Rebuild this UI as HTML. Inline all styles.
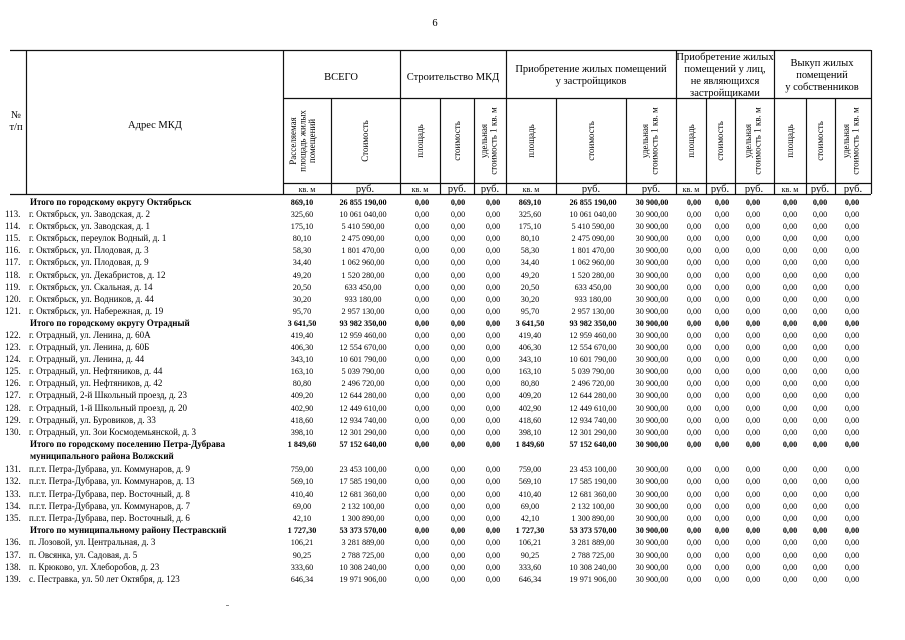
<!DOCTYPE html>
<html><head><meta charset="utf-8"><style>
html,body{margin:0;padding:0;background:#fff;width:905px;height:640px;overflow:hidden}
svg{display:block}
text{font-family:"Liberation Serif",serif;fill:#000}
.h{font-size:10.5px}
.r{font-size:9px}
.n{font-size:8.2px;text-anchor:middle}
.a{font-size:9px}
.b{font-weight:bold}
</style></head><body>
<svg width="905" height="640" viewBox="0 0 905 640" xmlns="http://www.w3.org/2000/svg">
<text x="435" y="26" class="h" text-anchor="middle">6</text>
<g stroke="#111" stroke-width="1.2" fill="none">
<line x1="10" y1="50.5" x2="871" y2="50.5"/>
<line x1="283" y1="98.5" x2="871" y2="98.5"/>
<line x1="283" y1="183.5" x2="871" y2="183.5"/>
<line x1="10" y1="194.5" x2="871" y2="194.5"/>
<line x1="26.5" y1="50" x2="26.5" y2="194"/>
<line x1="283.5" y1="50" x2="283.5" y2="194"/>
<line x1="400.5" y1="50" x2="400.5" y2="194"/>
<line x1="506.5" y1="50" x2="506.5" y2="194"/>
<line x1="676.5" y1="50" x2="676.5" y2="194"/>
<line x1="774.5" y1="50" x2="774.5" y2="194"/>
<line x1="871.5" y1="50" x2="871.5" y2="194"/>
<line x1="331.5" y1="98" x2="331.5" y2="194"/>
<line x1="440.5" y1="98" x2="440.5" y2="194"/>
<line x1="474.5" y1="98" x2="474.5" y2="194"/>
<line x1="556.5" y1="98" x2="556.5" y2="194"/>
<line x1="626.5" y1="98" x2="626.5" y2="194"/>
<line x1="706.5" y1="98" x2="706.5" y2="194"/>
<line x1="735.5" y1="98" x2="735.5" y2="194"/>
<line x1="806.5" y1="98" x2="806.5" y2="194"/>
<line x1="835.5" y1="98" x2="835.5" y2="194"/>
</g>
<text x="16" y="118" class="h" text-anchor="middle">№</text>
<text x="16" y="130" class="h" text-anchor="middle">т/п</text>
<text x="155" y="128" class="h" text-anchor="middle">Адрес МКД</text>
<text x="341" y="80" class="h" text-anchor="middle">ВСЕГО</text>
<text x="453" y="80" class="h" text-anchor="middle">Строительство МКД</text>
<text x="591" y="72" class="h" text-anchor="middle">Приобретение жилых помещений</text>
<text x="591" y="84" class="h" text-anchor="middle">у застройщиков</text>
<text x="725" y="60" class="h" text-anchor="middle">Приобретение жилых</text>
<text x="725" y="72" class="h" text-anchor="middle">помещений у лиц,</text>
<text x="725" y="84" class="h" text-anchor="middle">не являющихся</text>
<text x="725" y="96" class="h" text-anchor="middle">застройщиками</text>
<text x="822" y="66" class="h" text-anchor="middle">Выкуп жилых</text>
<text x="822" y="78" class="h" text-anchor="middle">помещений</text>
<text x="822" y="90" class="h" text-anchor="middle">у собственников</text>
<g class="r" text-anchor="middle">
<text transform="translate(296,141) rotate(-90)">Расселяемая</text>
<text transform="translate(305.5,141) rotate(-90)">площадь жилых</text>
<text transform="translate(315,141) rotate(-90)">помещений</text>
<text transform="translate(368,141) rotate(-90)">Стоимость</text>
<text transform="translate(423,141) rotate(-90)">площадь</text>
<text transform="translate(460,141) rotate(-90)">стоимость</text>
<text transform="translate(487,141) rotate(-90)">удельная</text>
<text transform="translate(496.5,141) rotate(-90)">стоимость 1 кв. м</text>
<text transform="translate(534,141) rotate(-90)">площадь</text>
<text transform="translate(594,141) rotate(-90)">стоимость</text>
<text transform="translate(648,141) rotate(-90)">удельная</text>
<text transform="translate(657.5,141) rotate(-90)">стоимость 1 кв. м</text>
<text transform="translate(694,141) rotate(-90)">площадь</text>
<text transform="translate(723,141) rotate(-90)">стоимость</text>
<text transform="translate(751,141) rotate(-90)">удельная</text>
<text transform="translate(760.5,141) rotate(-90)">стоимость 1 кв. м</text>
<text transform="translate(793,141) rotate(-90)">площадь</text>
<text transform="translate(823,141) rotate(-90)">стоимость</text>
<text transform="translate(849,141) rotate(-90)">удельная</text>
<text transform="translate(858.5,141) rotate(-90)">стоимость 1 кв. м</text>
</g>
<g class="r" text-anchor="middle">
<text x="307" y="192" font-size="8">кв. м</text><text x="365" y="192" font-size="10.5">руб.</text>
<text x="420" y="192" font-size="8">кв. м</text><text x="457" y="192" font-size="10.5">руб.</text><text x="490" y="192" font-size="10.5">руб.</text>
<text x="531" y="192" font-size="8">кв. м</text><text x="591" y="192" font-size="10.5">руб.</text><text x="651" y="192" font-size="10.5">руб.</text>
<text x="691" y="192" font-size="8">кв. м</text><text x="720" y="192" font-size="10.5">руб.</text><text x="754" y="192" font-size="10.5">руб.</text>
<text x="790" y="192" font-size="8">кв. м</text><text x="820" y="192" font-size="10.5">руб.</text><text x="853" y="192" font-size="10.5">руб.</text>
</g>

<g class="a">
<text x="30" y="205" class="b">Итого по городскому округу Октябрьск</text>
<text x="5" y="217">113.</text><text x="29" y="217">г. Октябрьск, ул.  Заводская, д.  2</text>
<text x="5" y="229">114.</text><text x="29" y="229">г. Октябрьск, ул.  Заводская, д.  1</text>
<text x="5" y="241">115.</text><text x="29" y="241">г. Октябрьск, переулок Водный, д.  1</text>
<text x="5" y="253">116.</text><text x="29" y="253">г. Октябрьск, ул.  Плодовая, д.  3</text>
<text x="5" y="265">117.</text><text x="29" y="265">г. Октябрьск, ул.  Плодовая, д.  9</text>
<text x="5" y="278">118.</text><text x="29" y="278">г. Октябрьск, ул. Декабристов, д. 12</text>
<text x="5" y="290">119.</text><text x="29" y="290">г. Октябрьск, ул.  Скальная, д.  14</text>
<text x="5" y="302">120.</text><text x="29" y="302">г. Октябрьск, ул.  Водников, д.  44</text>
<text x="5" y="314">121.</text><text x="29" y="314">г. Октябрьск, ул.  Набережная, д.  19</text>
<text x="30" y="326" class="b">Итого по городскому округу  Отрадный</text>
<text x="5" y="338">122.</text><text x="29" y="338">г. Отрадный, ул. Ленина, д.  60А</text>
<text x="5" y="350">123.</text><text x="29" y="350">г. Отрадный, ул. Ленина, д.  60Б</text>
<text x="5" y="362">124.</text><text x="29" y="362">г. Отрадный, ул.  Ленина, д.  44</text>
<text x="5" y="374">125.</text><text x="29" y="374">г. Отрадный, ул.  Нефтяников, д.  44</text>
<text x="5" y="386">126.</text><text x="29" y="386">г. Отрадный, ул.  Нефтяников, д.  42</text>
<text x="5" y="398">127.</text><text x="29" y="398">г. Отрадный, 2-й Школьный проезд, д.  23</text>
<text x="5" y="411">128.</text><text x="29" y="411">г. Отрадный, 1-й Школьный проезд, д.  20</text>
<text x="5" y="423">129.</text><text x="29" y="423">г. Отрадный, ул. Буровиков, д.  33</text>
<text x="5" y="435">130.</text><text x="29" y="435">г. Отрадный, ул. Зои Космодемьянской, д.  3</text>
<text x="30" y="447" class="b">Итого по городскому поселению  Петра-Дубрава</text>
<text x="30" y="459" class="b">муниципального района Волжский</text>
<text x="5" y="472">131.</text><text x="29" y="472">п.г.т. Петра-Дубрава, ул. Коммунаров, д. 9</text>
<text x="5" y="484">132.</text><text x="29" y="484">п.г.т. Петра-Дубрава, ул. Коммунаров, д. 13</text>
<text x="5" y="497">133.</text><text x="29" y="497">п.г.т. Петра-Дубрава, пер. Восточный, д. 8</text>
<text x="5" y="509">134.</text><text x="29" y="509">п.г.т. Петра-Дубрава, ул. Коммунаров, д. 7</text>
<text x="5" y="521">135.</text><text x="29" y="521">п.г.т. Петра-Дубрава, пер. Восточный, д. 6</text>
<text x="30" y="533" class="b">Итого по муниципальному району Пестравский</text>
<text x="5" y="545">136.</text><text x="29" y="545">п. Лозовой, ул. Центральная, д. 3</text>
<text x="5" y="558">137.</text><text x="29" y="558">п. Овсянка, ул. Садовая, д. 5</text>
<text x="5" y="570">138.</text><text x="29" y="570">п. Крюково, ул.  Хлеборобов, д. 23</text>
<text x="5" y="582">139.</text><text x="29" y="582">с. Пестравка, ул. 50 лет Октября, д. 123</text>
</g>

<g class="n">
<text y="205" class="b"><tspan x="302">869,10</tspan><tspan x="363">26 855 190,00</tspan><tspan x="422">0,00</tspan><tspan x="458">0,00</tspan><tspan x="493">0,00</tspan><tspan x="530">869,10</tspan><tspan x="593">26 855 190,00</tspan><tspan x="652">30 900,00</tspan><tspan x="694">0,00</tspan><tspan x="722">0,00</tspan><tspan x="753">0,00</tspan><tspan x="790">0,00</tspan><tspan x="820">0,00</tspan><tspan x="852">0,00</tspan></text>
<text y="217"><tspan x="302">325,60</tspan><tspan x="363">10 061 040,00</tspan><tspan x="422">0,00</tspan><tspan x="458">0,00</tspan><tspan x="493">0,00</tspan><tspan x="530">325,60</tspan><tspan x="593">10 061 040,00</tspan><tspan x="652">30 900,00</tspan><tspan x="694">0,00</tspan><tspan x="722">0,00</tspan><tspan x="753">0,00</tspan><tspan x="790">0,00</tspan><tspan x="820">0,00</tspan><tspan x="852">0,00</tspan></text>
<text y="229"><tspan x="302">175,10</tspan><tspan x="363">5 410 590,00</tspan><tspan x="422">0,00</tspan><tspan x="458">0,00</tspan><tspan x="493">0,00</tspan><tspan x="530">175,10</tspan><tspan x="593">5 410 590,00</tspan><tspan x="652">30 900,00</tspan><tspan x="694">0,00</tspan><tspan x="722">0,00</tspan><tspan x="753">0,00</tspan><tspan x="790">0,00</tspan><tspan x="820">0,00</tspan><tspan x="852">0,00</tspan></text>
<text y="241"><tspan x="302">80,10</tspan><tspan x="363">2 475 090,00</tspan><tspan x="422">0,00</tspan><tspan x="458">0,00</tspan><tspan x="493">0,00</tspan><tspan x="530">80,10</tspan><tspan x="593">2 475 090,00</tspan><tspan x="652">30 900,00</tspan><tspan x="694">0,00</tspan><tspan x="722">0,00</tspan><tspan x="753">0,00</tspan><tspan x="790">0,00</tspan><tspan x="820">0,00</tspan><tspan x="852">0,00</tspan></text>
<text y="253"><tspan x="302">58,30</tspan><tspan x="363">1 801 470,00</tspan><tspan x="422">0,00</tspan><tspan x="458">0,00</tspan><tspan x="493">0,00</tspan><tspan x="530">58,30</tspan><tspan x="593">1 801 470,00</tspan><tspan x="652">30 900,00</tspan><tspan x="694">0,00</tspan><tspan x="722">0,00</tspan><tspan x="753">0,00</tspan><tspan x="790">0,00</tspan><tspan x="820">0,00</tspan><tspan x="852">0,00</tspan></text>
<text y="265"><tspan x="302">34,40</tspan><tspan x="363">1 062 960,00</tspan><tspan x="422">0,00</tspan><tspan x="458">0,00</tspan><tspan x="493">0,00</tspan><tspan x="530">34,40</tspan><tspan x="593">1 062 960,00</tspan><tspan x="652">30 900,00</tspan><tspan x="694">0,00</tspan><tspan x="722">0,00</tspan><tspan x="753">0,00</tspan><tspan x="790">0,00</tspan><tspan x="820">0,00</tspan><tspan x="852">0,00</tspan></text>
<text y="278"><tspan x="302">49,20</tspan><tspan x="363">1 520 280,00</tspan><tspan x="422">0,00</tspan><tspan x="458">0,00</tspan><tspan x="493">0,00</tspan><tspan x="530">49,20</tspan><tspan x="593">1 520 280,00</tspan><tspan x="652">30 900,00</tspan><tspan x="694">0,00</tspan><tspan x="722">0,00</tspan><tspan x="753">0,00</tspan><tspan x="790">0,00</tspan><tspan x="820">0,00</tspan><tspan x="852">0,00</tspan></text>
<text y="290"><tspan x="302">20,50</tspan><tspan x="363">633 450,00</tspan><tspan x="422">0,00</tspan><tspan x="458">0,00</tspan><tspan x="493">0,00</tspan><tspan x="530">20,50</tspan><tspan x="593">633 450,00</tspan><tspan x="652">30 900,00</tspan><tspan x="694">0,00</tspan><tspan x="722">0,00</tspan><tspan x="753">0,00</tspan><tspan x="790">0,00</tspan><tspan x="820">0,00</tspan><tspan x="852">0,00</tspan></text>
<text y="302"><tspan x="302">30,20</tspan><tspan x="363">933 180,00</tspan><tspan x="422">0,00</tspan><tspan x="458">0,00</tspan><tspan x="493">0,00</tspan><tspan x="530">30,20</tspan><tspan x="593">933 180,00</tspan><tspan x="652">30 900,00</tspan><tspan x="694">0,00</tspan><tspan x="722">0,00</tspan><tspan x="753">0,00</tspan><tspan x="790">0,00</tspan><tspan x="820">0,00</tspan><tspan x="852">0,00</tspan></text>
<text y="314"><tspan x="302">95,70</tspan><tspan x="363">2 957 130,00</tspan><tspan x="422">0,00</tspan><tspan x="458">0,00</tspan><tspan x="493">0,00</tspan><tspan x="530">95,70</tspan><tspan x="593">2 957 130,00</tspan><tspan x="652">30 900,00</tspan><tspan x="694">0,00</tspan><tspan x="722">0,00</tspan><tspan x="753">0,00</tspan><tspan x="790">0,00</tspan><tspan x="820">0,00</tspan><tspan x="852">0,00</tspan></text>
<text y="326" class="b"><tspan x="302">3 641,50</tspan><tspan x="363">93 982 350,00</tspan><tspan x="422">0,00</tspan><tspan x="458">0,00</tspan><tspan x="493">0,00</tspan><tspan x="530">3 641,50</tspan><tspan x="593">93 982 350,00</tspan><tspan x="652">30 900,00</tspan><tspan x="694">0,00</tspan><tspan x="722">0,00</tspan><tspan x="753">0,00</tspan><tspan x="790">0,00</tspan><tspan x="820">0,00</tspan><tspan x="852">0,00</tspan></text>
<text y="338"><tspan x="302">419,40</tspan><tspan x="363">12 959 460,00</tspan><tspan x="422">0,00</tspan><tspan x="458">0,00</tspan><tspan x="493">0,00</tspan><tspan x="530">419,40</tspan><tspan x="593">12 959 460,00</tspan><tspan x="652">30 900,00</tspan><tspan x="694">0,00</tspan><tspan x="722">0,00</tspan><tspan x="753">0,00</tspan><tspan x="790">0,00</tspan><tspan x="820">0,00</tspan><tspan x="852">0,00</tspan></text>
<text y="350"><tspan x="302">406,30</tspan><tspan x="363">12 554 670,00</tspan><tspan x="422">0,00</tspan><tspan x="458">0,00</tspan><tspan x="493">0,00</tspan><tspan x="530">406,30</tspan><tspan x="593">12 554 670,00</tspan><tspan x="652">30 900,00</tspan><tspan x="694">0,00</tspan><tspan x="722">0,00</tspan><tspan x="753">0,00</tspan><tspan x="790">0,00</tspan><tspan x="820">0,00</tspan><tspan x="852">0,00</tspan></text>
<text y="362"><tspan x="302">343,10</tspan><tspan x="363">10 601 790,00</tspan><tspan x="422">0,00</tspan><tspan x="458">0,00</tspan><tspan x="493">0,00</tspan><tspan x="530">343,10</tspan><tspan x="593">10 601 790,00</tspan><tspan x="652">30 900,00</tspan><tspan x="694">0,00</tspan><tspan x="722">0,00</tspan><tspan x="753">0,00</tspan><tspan x="790">0,00</tspan><tspan x="820">0,00</tspan><tspan x="852">0,00</tspan></text>
<text y="374"><tspan x="302">163,10</tspan><tspan x="363">5 039 790,00</tspan><tspan x="422">0,00</tspan><tspan x="458">0,00</tspan><tspan x="493">0,00</tspan><tspan x="530">163,10</tspan><tspan x="593">5 039 790,00</tspan><tspan x="652">30 900,00</tspan><tspan x="694">0,00</tspan><tspan x="722">0,00</tspan><tspan x="753">0,00</tspan><tspan x="790">0,00</tspan><tspan x="820">0,00</tspan><tspan x="852">0,00</tspan></text>
<text y="386"><tspan x="302">80,80</tspan><tspan x="363">2 496 720,00</tspan><tspan x="422">0,00</tspan><tspan x="458">0,00</tspan><tspan x="493">0,00</tspan><tspan x="530">80,80</tspan><tspan x="593">2 496 720,00</tspan><tspan x="652">30 900,00</tspan><tspan x="694">0,00</tspan><tspan x="722">0,00</tspan><tspan x="753">0,00</tspan><tspan x="790">0,00</tspan><tspan x="820">0,00</tspan><tspan x="852">0,00</tspan></text>
<text y="398"><tspan x="302">409,20</tspan><tspan x="363">12 644 280,00</tspan><tspan x="422">0,00</tspan><tspan x="458">0,00</tspan><tspan x="493">0,00</tspan><tspan x="530">409,20</tspan><tspan x="593">12 644 280,00</tspan><tspan x="652">30 900,00</tspan><tspan x="694">0,00</tspan><tspan x="722">0,00</tspan><tspan x="753">0,00</tspan><tspan x="790">0,00</tspan><tspan x="820">0,00</tspan><tspan x="852">0,00</tspan></text>
<text y="411"><tspan x="302">402,90</tspan><tspan x="363">12 449 610,00</tspan><tspan x="422">0,00</tspan><tspan x="458">0,00</tspan><tspan x="493">0,00</tspan><tspan x="530">402,90</tspan><tspan x="593">12 449 610,00</tspan><tspan x="652">30 900,00</tspan><tspan x="694">0,00</tspan><tspan x="722">0,00</tspan><tspan x="753">0,00</tspan><tspan x="790">0,00</tspan><tspan x="820">0,00</tspan><tspan x="852">0,00</tspan></text>
<text y="423"><tspan x="302">418,60</tspan><tspan x="363">12 934 740,00</tspan><tspan x="422">0,00</tspan><tspan x="458">0,00</tspan><tspan x="493">0,00</tspan><tspan x="530">418,60</tspan><tspan x="593">12 934 740,00</tspan><tspan x="652">30 900,00</tspan><tspan x="694">0,00</tspan><tspan x="722">0,00</tspan><tspan x="753">0,00</tspan><tspan x="790">0,00</tspan><tspan x="820">0,00</tspan><tspan x="852">0,00</tspan></text>
<text y="435"><tspan x="302">398,10</tspan><tspan x="363">12 301 290,00</tspan><tspan x="422">0,00</tspan><tspan x="458">0,00</tspan><tspan x="493">0,00</tspan><tspan x="530">398,10</tspan><tspan x="593">12 301 290,00</tspan><tspan x="652">30 900,00</tspan><tspan x="694">0,00</tspan><tspan x="722">0,00</tspan><tspan x="753">0,00</tspan><tspan x="790">0,00</tspan><tspan x="820">0,00</tspan><tspan x="852">0,00</tspan></text>
<text y="447" class="b"><tspan x="302">1 849,60</tspan><tspan x="363">57 152 640,00</tspan><tspan x="422">0,00</tspan><tspan x="458">0,00</tspan><tspan x="493">0,00</tspan><tspan x="530">1 849,60</tspan><tspan x="593">57 152 640,00</tspan><tspan x="652">30 900,00</tspan><tspan x="694">0,00</tspan><tspan x="722">0,00</tspan><tspan x="753">0,00</tspan><tspan x="790">0,00</tspan><tspan x="820">0,00</tspan><tspan x="852">0,00</tspan></text>
<text y="472"><tspan x="302">759,00</tspan><tspan x="363">23 453 100,00</tspan><tspan x="422">0,00</tspan><tspan x="458">0,00</tspan><tspan x="493">0,00</tspan><tspan x="530">759,00</tspan><tspan x="593">23 453 100,00</tspan><tspan x="652">30 900,00</tspan><tspan x="694">0,00</tspan><tspan x="722">0,00</tspan><tspan x="753">0,00</tspan><tspan x="790">0,00</tspan><tspan x="820">0,00</tspan><tspan x="852">0,00</tspan></text>
<text y="484"><tspan x="302">569,10</tspan><tspan x="363">17 585 190,00</tspan><tspan x="422">0,00</tspan><tspan x="458">0,00</tspan><tspan x="493">0,00</tspan><tspan x="530">569,10</tspan><tspan x="593">17 585 190,00</tspan><tspan x="652">30 900,00</tspan><tspan x="694">0,00</tspan><tspan x="722">0,00</tspan><tspan x="753">0,00</tspan><tspan x="790">0,00</tspan><tspan x="820">0,00</tspan><tspan x="852">0,00</tspan></text>
<text y="497"><tspan x="302">410,40</tspan><tspan x="363">12 681 360,00</tspan><tspan x="422">0,00</tspan><tspan x="458">0,00</tspan><tspan x="493">0,00</tspan><tspan x="530">410,40</tspan><tspan x="593">12 681 360,00</tspan><tspan x="652">30 900,00</tspan><tspan x="694">0,00</tspan><tspan x="722">0,00</tspan><tspan x="753">0,00</tspan><tspan x="790">0,00</tspan><tspan x="820">0,00</tspan><tspan x="852">0,00</tspan></text>
<text y="509"><tspan x="302">69,00</tspan><tspan x="363">2 132 100,00</tspan><tspan x="422">0,00</tspan><tspan x="458">0,00</tspan><tspan x="493">0,00</tspan><tspan x="530">69,00</tspan><tspan x="593">2 132 100,00</tspan><tspan x="652">30 900,00</tspan><tspan x="694">0,00</tspan><tspan x="722">0,00</tspan><tspan x="753">0,00</tspan><tspan x="790">0,00</tspan><tspan x="820">0,00</tspan><tspan x="852">0,00</tspan></text>
<text y="521"><tspan x="302">42,10</tspan><tspan x="363">1 300 890,00</tspan><tspan x="422">0,00</tspan><tspan x="458">0,00</tspan><tspan x="493">0,00</tspan><tspan x="530">42,10</tspan><tspan x="593">1 300 890,00</tspan><tspan x="652">30 900,00</tspan><tspan x="694">0,00</tspan><tspan x="722">0,00</tspan><tspan x="753">0,00</tspan><tspan x="790">0,00</tspan><tspan x="820">0,00</tspan><tspan x="852">0,00</tspan></text>
<text y="533" class="b"><tspan x="302">1 727,30</tspan><tspan x="363">53 373 570,00</tspan><tspan x="422">0,00</tspan><tspan x="458">0,00</tspan><tspan x="493">0,00</tspan><tspan x="530">1 727,30</tspan><tspan x="593">53 373 570,00</tspan><tspan x="652">30 900,00</tspan><tspan x="694">0,00</tspan><tspan x="722">0,00</tspan><tspan x="753">0,00</tspan><tspan x="790">0,00</tspan><tspan x="820">0,00</tspan><tspan x="852">0,00</tspan></text>
<text y="545"><tspan x="302">106,21</tspan><tspan x="363">3 281 889,00</tspan><tspan x="422">0,00</tspan><tspan x="458">0,00</tspan><tspan x="493">0,00</tspan><tspan x="530">106,21</tspan><tspan x="593">3 281 889,00</tspan><tspan x="652">30 900,00</tspan><tspan x="694">0,00</tspan><tspan x="722">0,00</tspan><tspan x="753">0,00</tspan><tspan x="790">0,00</tspan><tspan x="820">0,00</tspan><tspan x="852">0,00</tspan></text>
<text y="558"><tspan x="302">90,25</tspan><tspan x="363">2 788 725,00</tspan><tspan x="422">0,00</tspan><tspan x="458">0,00</tspan><tspan x="493">0,00</tspan><tspan x="530">90,25</tspan><tspan x="593">2 788 725,00</tspan><tspan x="652">30 900,00</tspan><tspan x="694">0,00</tspan><tspan x="722">0,00</tspan><tspan x="753">0,00</tspan><tspan x="790">0,00</tspan><tspan x="820">0,00</tspan><tspan x="852">0,00</tspan></text>
<text y="570"><tspan x="302">333,60</tspan><tspan x="363">10 308 240,00</tspan><tspan x="422">0,00</tspan><tspan x="458">0,00</tspan><tspan x="493">0,00</tspan><tspan x="530">333,60</tspan><tspan x="593">10 308 240,00</tspan><tspan x="652">30 900,00</tspan><tspan x="694">0,00</tspan><tspan x="722">0,00</tspan><tspan x="753">0,00</tspan><tspan x="790">0,00</tspan><tspan x="820">0,00</tspan><tspan x="852">0,00</tspan></text>
<text y="582"><tspan x="302">646,34</tspan><tspan x="363">19 971 906,00</tspan><tspan x="422">0,00</tspan><tspan x="458">0,00</tspan><tspan x="493">0,00</tspan><tspan x="530">646,34</tspan><tspan x="593">19 971 906,00</tspan><tspan x="652">30 900,00</tspan><tspan x="694">0,00</tspan><tspan x="722">0,00</tspan><tspan x="753">0,00</tspan><tspan x="790">0,00</tspan><tspan x="820">0,00</tspan><tspan x="852">0,00</tspan></text>
</g>
<line x1="226" y1="605.5" x2="229" y2="605.5" stroke="#888"/>
</svg>
</body></html>
